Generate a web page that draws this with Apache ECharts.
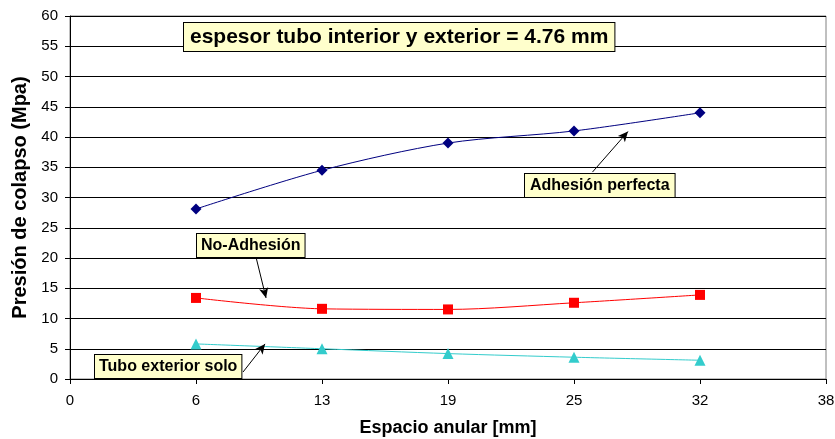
<!DOCTYPE html>
<html>
<head>
<meta charset="utf-8">
<script src="https://cdn.jsdelivr.net/npm/echarts@6/dist/echarts.min.js"></script>
<style>html,body{margin:0;padding:0;background:#fff}#c{width:835px;height:439px}</style>
</head>
<body>
<div id="c"></div>
<script>
const xValues = [6.35, 12.7, 19.05, 25.4, 31.75];
const adhesionPerfecta = [28.1, 34.5, 39.0, 41.0, 44.0];
const noAdhesion = [13.4, 11.6, 11.5, 12.6, 13.9];
const tuboExterior = [5.8, 5.0, 4.2, 3.6, 3.1];
const yTicks = [0, 5, 10, 15, 20, 25, 30, 35, 40, 45, 50, 55, 60];

const F = '"Liberation Sans", Arial, sans-serif';
function pairs(ys){ return xValues.map((x,i)=>[x, ys[i]]); }
function arrow(a, b){ return [{coord:a},{coord:b}]; }
const arrowML = (d) => ({silent:true, symbol:['none','arrow'], symbolSize:[7,10], label:{show:false},
  lineStyle:{color:'#000', width:1, type:'solid'}, emphasis:{disabled:true}, data:[d]});

const chart = echarts.init(document.getElementById('c'), null, {renderer:'canvas'});
chart.setOption({
  animation:false,
  backgroundColor:'#fff',
  grid:{left:70, right:9, top:16, bottom:60, containLabel:false, outerBoundsMode:'none', show:true, borderColor:'#808080', borderWidth:1, backgroundColor:'transparent'},
  xAxis:{
    type:'value', min:0, max:38.1, interval:6.35,
    name:'Espacio anular [mm]', nameLocation:'middle', nameGap:40,
    nameTextStyle:{fontFamily:F, fontWeight:'bold', fontSize:18, color:'#000'},
    axisLine:{show:true, lineStyle:{color:'#000', width:1}},
    axisTick:{show:true, length:5, lineStyle:{color:'#000'}},
    axisLabel:{fontFamily:F, fontSize:15, color:'#000', margin:14, formatter:v=>String(Math.round(v))},
    splitLine:{show:false}
  },
  yAxis:{
    type:'value', min:yTicks[0], max:yTicks[yTicks.length-1], interval:5,
    name:'Presión de colapso (Mpa)', nameLocation:'middle', nameGap:33,
    nameTextStyle:{fontFamily:F, fontWeight:'bold', fontSize:20, color:'#000'},
    axisLine:{show:true, lineStyle:{color:'#000', width:1}},
    axisTick:{show:true, length:5, lineStyle:{color:'#000'}},
    axisLabel:{fontFamily:F, fontSize:15, color:'#000', margin:12},
    splitLine:{show:true, lineStyle:{color:'#000', width:1}}
  },
  series:[
    {type:'line', name:'Adhesión perfecta', data:pairs(adhesionPerfecta), smooth:0.3,
     symbol:'diamond', symbolSize:11, itemStyle:{color:'#000080'}, lineStyle:{color:'#000080', width:1},
     markLine:arrowML(arrow([26.33,34.2],[28.12,40.9]))},
    {type:'line', name:'No-Adhesión', data:pairs(noAdhesion), smooth:0.3,
     symbol:'rect', symbolSize:10, itemStyle:{color:'#FF0000'}, lineStyle:{color:'#FF0000', width:1},
     markLine:arrowML(arrow([9.37,20.2],[9.88,13.4]))},
    {type:'line', name:'Tubo exterior solo', data:pairs(tuboExterior), smooth:0.3,
     symbol:'triangle', symbolSize:11, itemStyle:{color:'#33CCCC'}, lineStyle:{color:'#33CCCC', width:1},
     markLine:arrowML(arrow([8.72,1.15],[9.83,5.8]))}
  ],
  graphic:[
    {type:'text', left:183, top:22, z:100, style:{text:'espesor tubo interior y exterior = 4.76 mm', font:'bold 21px "Liberation Sans", Arial, sans-serif', fill:'#000', backgroundColor:'#FFFFCC', borderColor:'#000', borderWidth:1, padding:[4,6,3,6]}},
    {type:'text', left:524, top:173, z:100, style:{text:'Adhesión perfecta', font:'bold 16px "Liberation Sans", Arial, sans-serif', fill:'#000', backgroundColor:'#FFFFCC', borderColor:'#000', borderWidth:1, padding:[4,5,3,5]}},
    {type:'text', left:196, top:233, z:100, style:{text:'No-Adhesión', font:'bold 16px "Liberation Sans", Arial, sans-serif', fill:'#000', backgroundColor:'#FFFFCC', borderColor:'#000', borderWidth:1, padding:[4,4,3,4]}},
    {type:'text', left:94, top:354, z:100, style:{text:'Tubo exterior solo', font:'bold 16px "Liberation Sans", Arial, sans-serif', fill:'#000', backgroundColor:'#FFFFCC', borderColor:'#000', borderWidth:1, padding:[4,4,3,4]}}
  ]
});
</script>
</body>
</html>
